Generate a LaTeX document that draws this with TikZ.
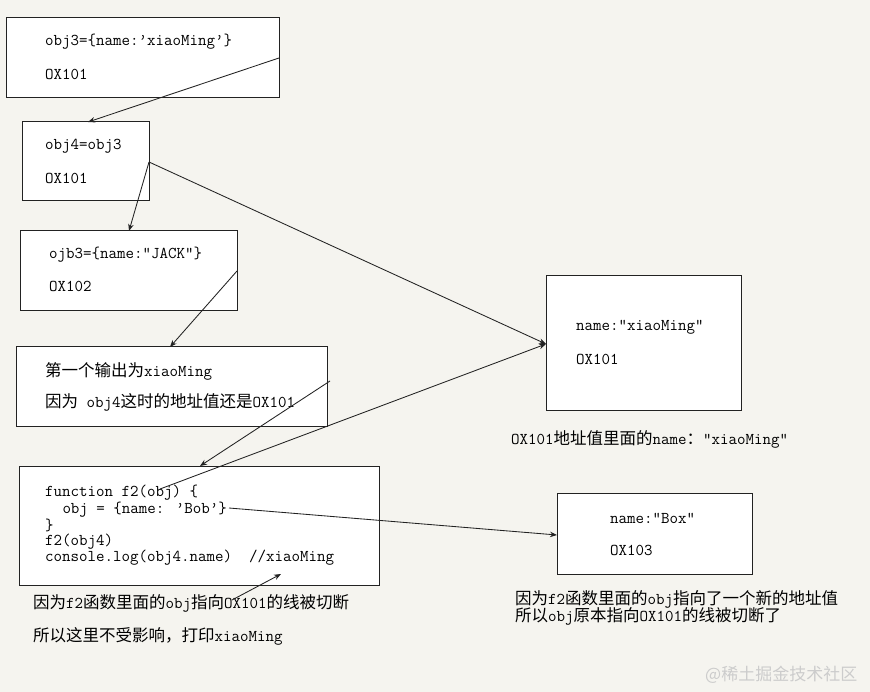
\documentclass[tikz,border=0pt]{standalone}
\usepackage{fontspec}
\newfontfamily\cjk{Noto Sans CJK SC}
\usetikzlibrary{arrows.meta}
\definecolor{bg}{HTML}{F5F4EF}
\definecolor{ink}{HTML}{222222}
\begin{document}
\begin{tikzpicture}[x=1pt,y=-1pt,
  font=\ttfamily\fontsize{16.5}{16.5}\selectfont,
  memb/.style={draw=ink,fill=white,line width=1pt,inner sep=0pt},
  txt/.style={anchor=west,inner sep=0pt,text=black},
  conn/.style={draw=ink,line width=0.85pt,-{Stealth[length=7pt,width=5.5pt]}}]
\fill[bg] (0,0) rectangle (870,692);
\useasboundingbox (0,0) rectangle (870,692);
% boxes
\draw[memb] (6,18) rectangle (279,98);
\draw[memb] (22,122) rectangle (149,201);
\draw[memb] (20,231) rectangle (237,311);
\draw[memb] (16,347) rectangle (327,426);
\draw[memb] (19,466) rectangle (379,585);
\draw[memb] (546,276) rectangle (741,410);
\draw[memb] (557,493) rectangle (752,574);
% named anchor points
\coordinate (b1out) at (279,58);
\coordinate (b2in) at (88,122);
\coordinate (b2out) at (149,162);
\coordinate (b3in) at (129,231);
\coordinate (b3out) at (237,271);
\coordinate (b4in) at (170,347);
\coordinate (c5start) at (330,381);
\coordinate (b5in) at (200,466);
\coordinate (objstart) at (160,489);
\coordinate (b6in) at (546,344);
\coordinate (bobend) at (229,508);
\coordinate (b7in) at (557,535);
\coordinate (notestart) at (232,600);
\coordinate (logend) at (281,574);
% texts
\node[txt] (t1a) at (45,42) {obj3=\{name:’xiaoMing’\}};
\node[txt] (t1b) at (45,74) {OX101};
\node[txt] (t2a) at (45,146) {obj4=obj3};
\node[txt] (t2b) at (45,178) {OX101};
\node[txt] (t3a) at (49,255) {ojb3=\{name:”JACK”\}};
\node[txt] (t3b) at (49,286) {OX102};
\node[txt] (t4a) at (45,371) {{\cjk 第一个输出为}xiaoMing};
\node[txt] (t4b) at (45,402) {{\cjk 因为} obj4{\cjk 这时的地址值还是}OX101};
\node[txt] (c1) at (45,493) {function f2(obj) \{};
\node[txt] (c2) at (45,509.5) {\hspace*{17.3pt}obj = \{name: ’Bob’\}};
\node[txt] (c3) at (45,525.5) {\}};
\node[txt] (c4) at (45,542) {f2(obj4)};
\node[txt] (c5) at (45,558) {console.log(obj4.name)\ \ //xiaoMing};
\node[txt] (n1) at (33,603) {{\cjk 因为}f2{\cjk 函数里面的}obj{\cjk 指向}OX101{\cjk 的线被切断}};
\node[txt] (n2) at (33,636) {{\cjk 所以这里不受影响，打印}xiaoMing};
\node[txt] (t6a) at (576,327) {name:”xiaoMing”};
\node[txt] (t6b) at (576,359) {OX101};
\node[txt] (n3) at (511,439) {OX101{\cjk 地址值里面的}name{\cjk ：}”xiaoMing”};
\node[txt] (t7a) at (610,518) {name:”Box”};
\node[txt] (t7b) at (610,550) {OX103};
\node[txt] (n4) at (515,599) {{\cjk 因为}f2{\cjk 函数里面的}obj{\cjk 指向了一个新的地址值}};
\node[txt] (n5) at (515,616) {{\cjk 所以}obj{\cjk 原本指向}OX101{\cjk 的线被切断了}};
\node[txt,text=black!20,font=\cjk\fontsize{17}{17}\selectfont] (wm) at (705,675) {@稀土掘金技术社区};
% connectors
\draw[conn] (b1out) -- (b2in);
\draw[conn] (b2out) -- (b3in);
\draw[conn] (b2out) -- (b6in);
\draw[conn] (b3out) -- (b4in);
\draw[conn] (c5start) -- (b5in);
\draw[conn] (objstart) -- (b6in);
\draw[conn] (bobend) -- (b7in);
\draw[conn] (notestart) -- (logend);
\end{tikzpicture}
\end{document}
